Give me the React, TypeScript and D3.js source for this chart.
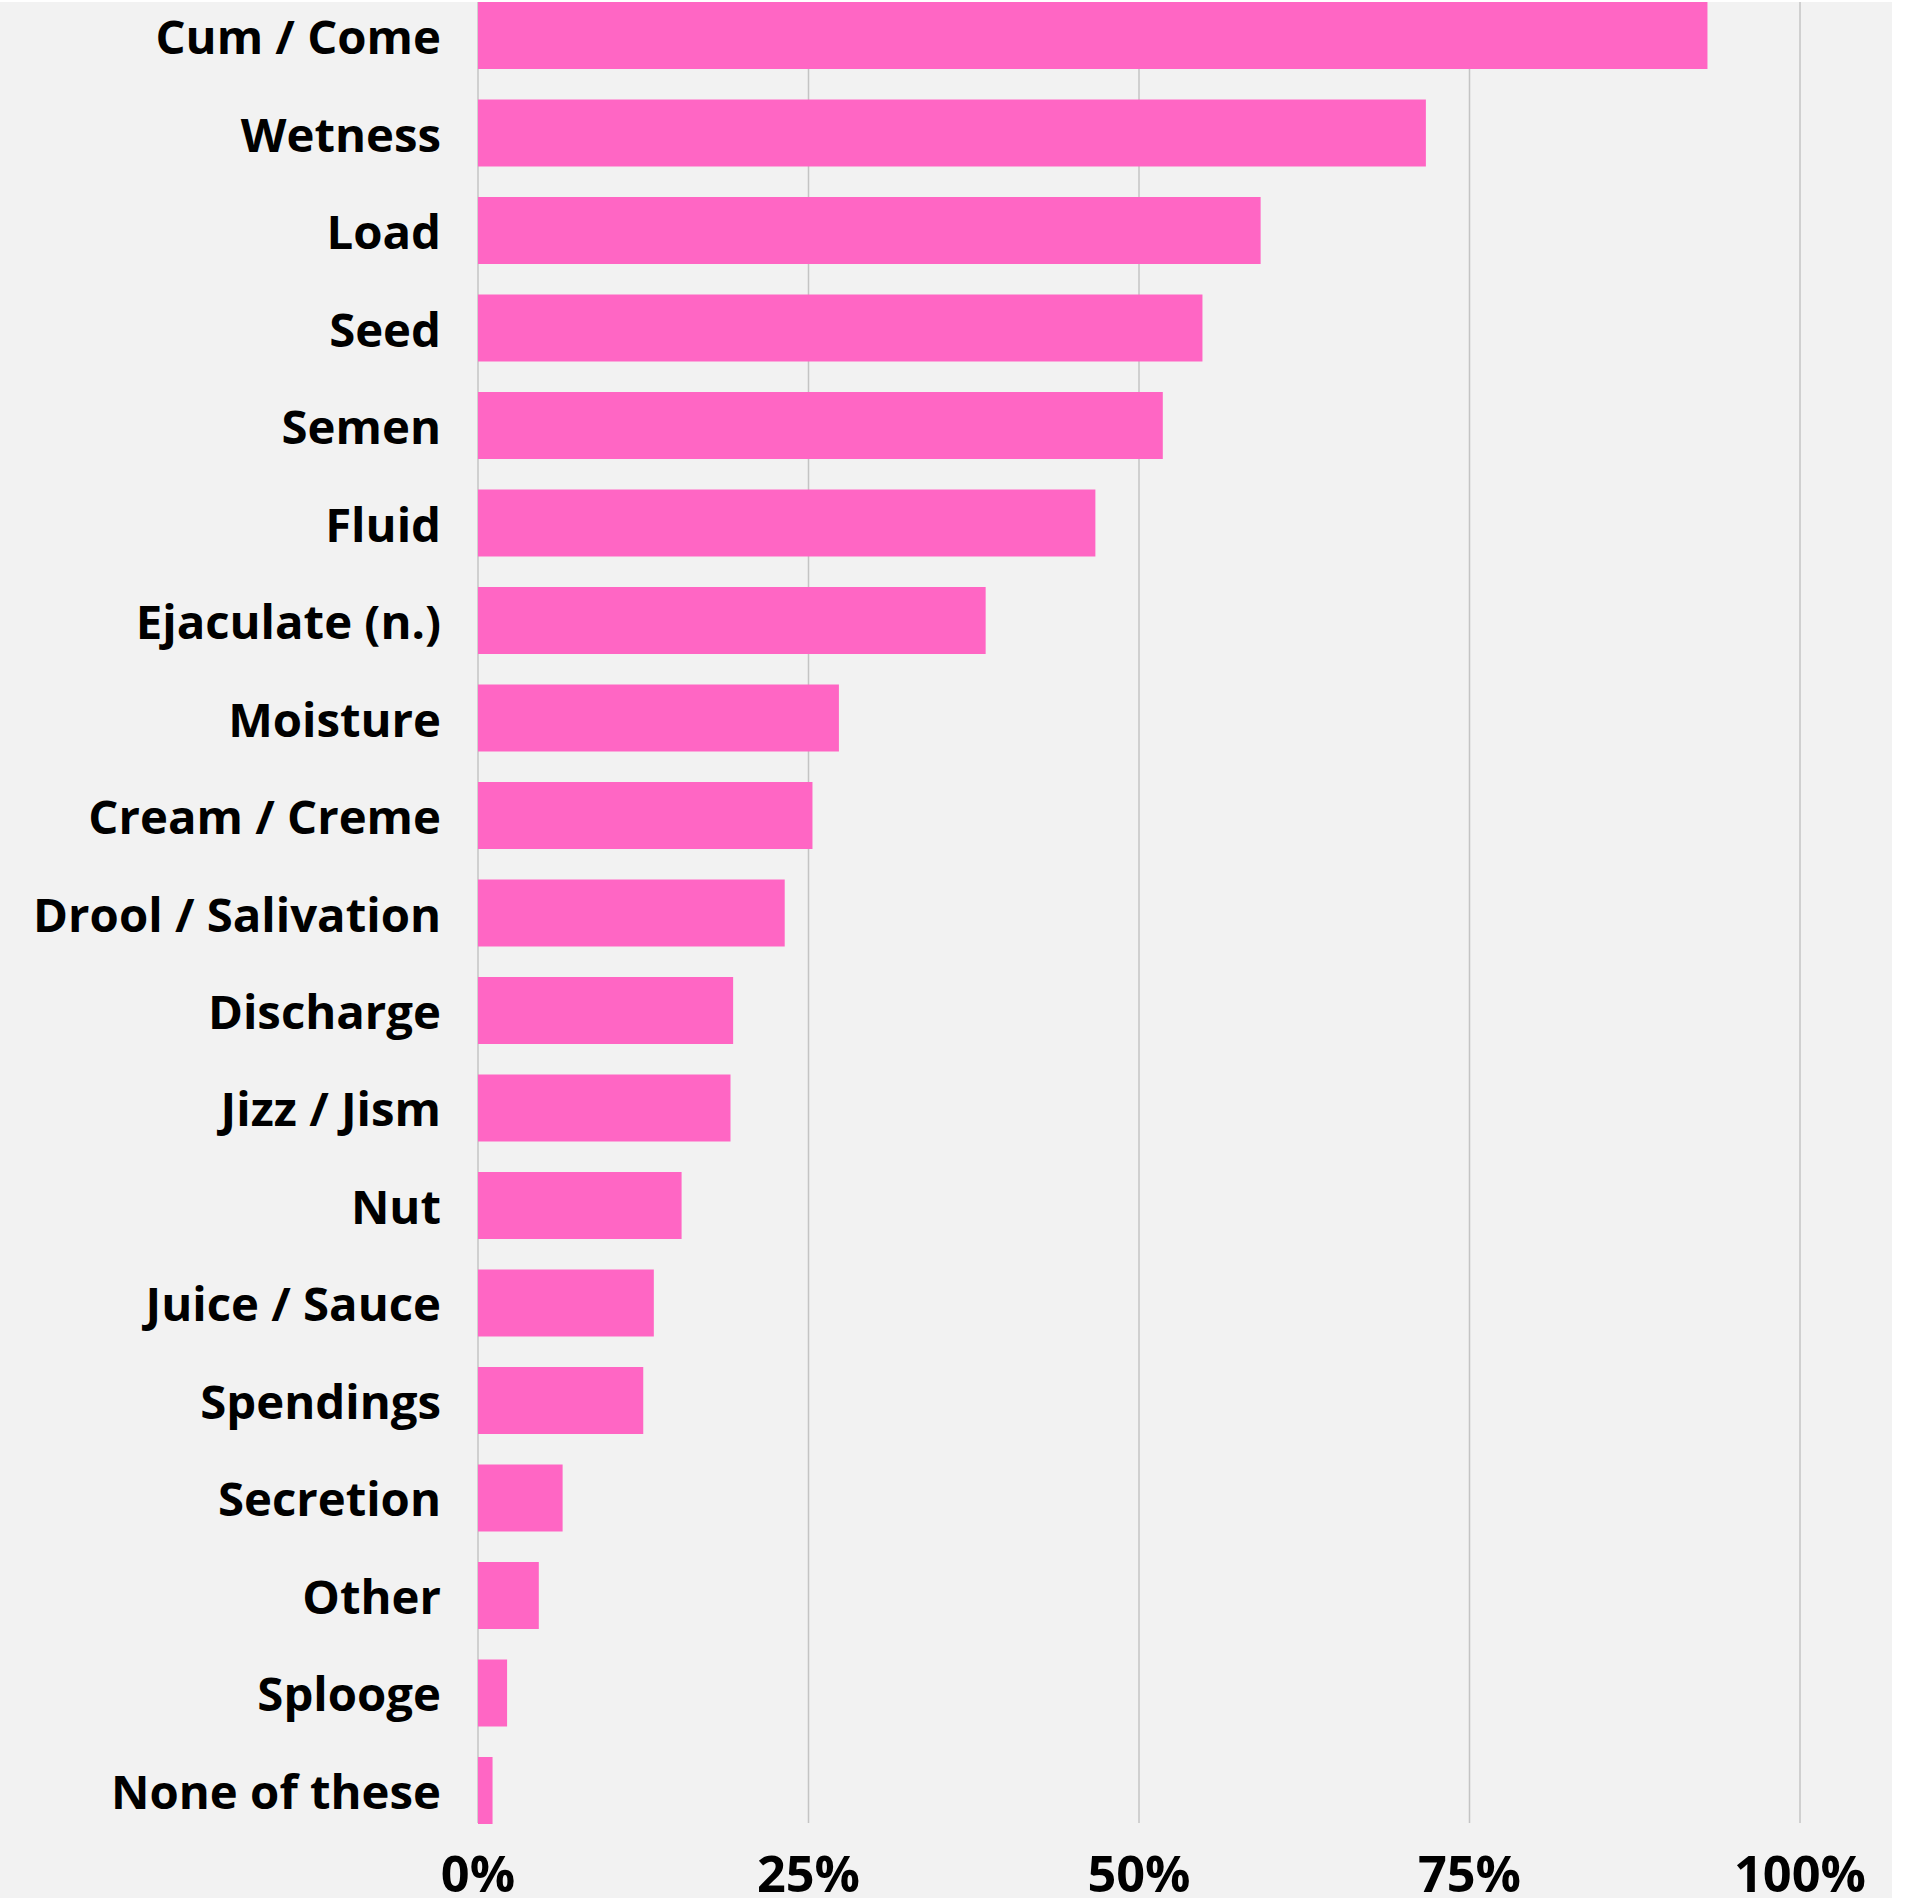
import React, { useEffect, useRef } from "react";
import * as d3 from "d3";

const categories = [
  "Cum / Come",
  "Wetness",
  "Load",
  "Seed",
  "Semen",
  "Fluid",
  "Ejaculate (n.)",
  "Moisture",
  "Cream / Creme",
  "Drool / Salivation",
  "Discharge",
  "Jizz / Jism",
  "Nut",
  "Juice / Sauce",
  "Spendings",
  "Secretion",
  "Other",
  "Splooge",
  "None of these",
];
const values = [93.0, 71.7, 59.2, 54.8, 51.8, 46.7, 38.4, 27.3, 25.3, 23.2, 19.3, 19.1, 15.4, 13.3, 12.5, 6.4, 4.6, 2.2, 1.1];
const tickValues = [0, 25, 50, 75, 100];
const tickLabels = ["0%", "25%", "50%", "75%", "100%"];

const W = 1909;
const H = 1898;
const FONT = "'Open Sans', 'Noto Sans', sans-serif";

export default function App() {
  const ref = useRef<SVGSVGElement | null>(null);

  useEffect(() => {
    const svg = d3.select(ref.current);
    svg.selectAll("*").remove();

    // measure to fit font sizes
    const probe = svg.append("text").attr("font-family", FONT).attr("font-weight", 700).attr("font-size", 100).text("Drool / Salivation");
    const wLabel = (probe.node() as SVGTextElement).getComputedTextLength();
    probe.text("100%");
    const wTick = (probe.node() as SVGTextElement).getComputedTextLength();
    probe.remove();
    const labelSize = (100 * 408) / wLabel;
    const tickSize = (100 * 132) / wTick;

    svg.append("rect").attr("x", 0).attr("y", 0).attr("width", W).attr("height", H).attr("fill", "#ffffff");
    svg.append("rect").attr("x", 0).attr("y", 2).attr("width", 1892).attr("height", H - 2).attr("fill", "#f2f2f2");

    const x = d3.scaleLinear().domain([0, 100]).range([478, 1800]);
    const y = d3.scaleBand<string>().domain(categories).range([2, 1824]).paddingInner(0.3128).paddingOuter(0);

    svg
      .append("g")
      .selectAll("line")
      .data(tickValues)
      .join("line")
      .attr("x1", (d) => x(d))
      .attr("x2", (d) => x(d))
      .attr("y1", 2)
      .attr("y2", 1823)
      .attr("stroke", "#c4c4c4")
      .attr("stroke-width", 1.5);

    svg
      .append("g")
      .selectAll("rect")
      .data(categories)
      .join("rect")
      .attr("x", x(0))
      .attr("y", (d) => y(d) as number)
      .attr("width", (d, i) => x(values[i]) - x(0))
      .attr("height", y.bandwidth())
      .attr("fill", "#ff66c4");

    svg
      .append("g")
      .selectAll("text")
      .data(categories)
      .join("text")
      .attr("x", 441)
      .attr("y", (d) => (y(d) as number) + y.bandwidth() / 2 + 18.5)
      .attr("text-anchor", "end")
      .attr("font-family", FONT)
      .attr("font-weight", 700)
      .attr("font-size", labelSize)
      .attr("fill", "#000000")
      .text((d) => d);

    svg
      .append("g")
      .selectAll("text")
      .data(tickValues)
      .join("text")
      .attr("x", (d) => x(d))
      .attr("y", 1892)
      .attr("text-anchor", "middle")
      .attr("font-family", FONT)
      .attr("font-weight", 700)
      .attr("font-size", tickSize)
      .attr("fill", "#000000")
      .text((d, i) => tickLabels[i]);
  }, []);

  return (
    <svg
      ref={ref}
      width={W}
      height={H}
      style={{ position: "absolute", left: 0, top: 0, display: "block" }}
    />
  );
}
